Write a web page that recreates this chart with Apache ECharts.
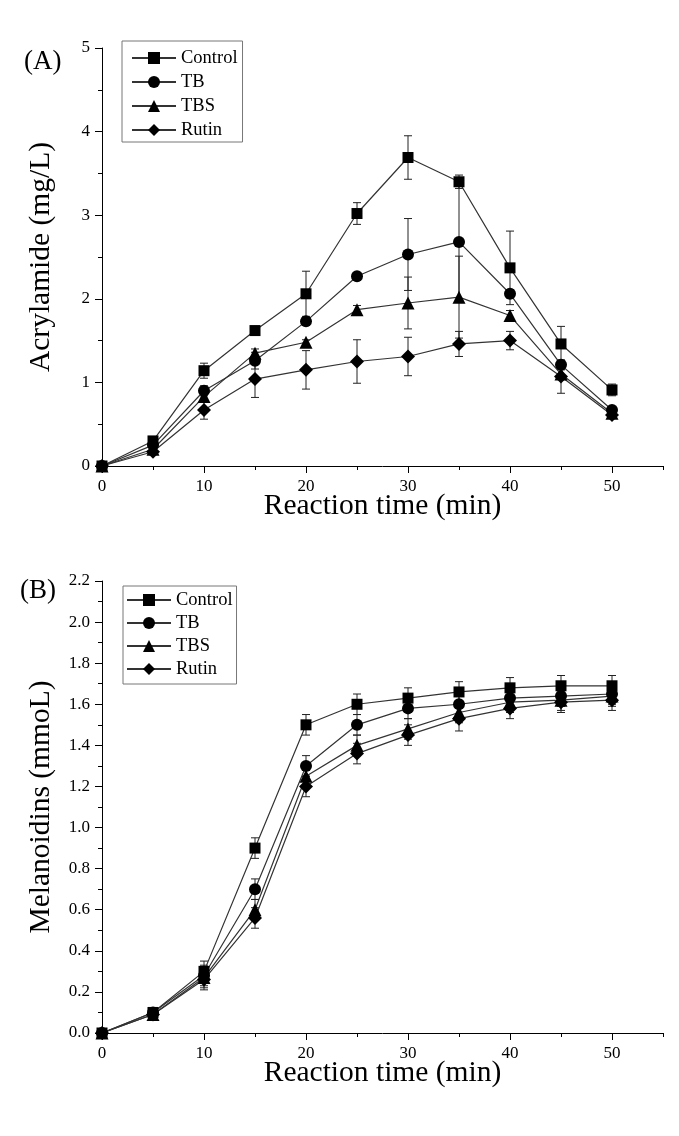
<!DOCTYPE html>
<html>
<head>
<meta charset="utf-8">
<script src="https://cdn.jsdelivr.net/npm/echarts@6/dist/echarts.min.js"></script>
<style>
html,body{margin:0;padding:0;background:#fff;}
#chart{width:679px;height:1136px;}
</style>
</head>
<body>
<div id="chart"></div>
<script>
// ---- data ----
var seriesNames = ['Control', 'TB', 'TBS', 'Rutin'];
var timeMin = [0, 5, 10, 15, 20, 25, 30, 35, 40, 45, 50];

// Panel A: acrylamide (mg/L)
var acrControl    = [0, 0.30, 1.14, 1.62, 2.06, 3.02, 3.69, 3.40, 2.37, 1.46, 0.91];
var acrControlErr = [0, 0.03, 0.09, 0.05, 0.27, 0.13, 0.26, 0.08, 0.44, 0.21, 0.07];
var acrTB         = [0, 0.25, 0.90, 1.26, 1.73, 2.27, 2.53, 2.68, 2.06, 1.21, 0.67];
var acrTBErr      = [0, 0.02, 0.06, 0.10, 0.05, 0.03, 0.43, 0.72, 0.05, 0.05, 0.03];
var acrTBS        = [0, 0.20, 0.83, 1.35, 1.48, 1.87, 1.95, 2.02, 1.80, 1.10, 0.63];
var acrTBSErr     = [0, 0.02, 0.05, 0.05, 0.03, 0.05, 0.31, 0.49, 0.06, 0.05, 0.03];
var acrRutin      = [0, 0.17, 0.67, 1.04, 1.15, 1.25, 1.31, 1.46, 1.50, 1.07, 0.61];
var acrRutinErr   = [0, 0.02, 0.11, 0.22, 0.23, 0.26, 0.23, 0.15, 0.11, 0.20, 0.03];

// Panel B: melanoidins (mmoL)
var melControl    = [0, 0.10, 0.30, 0.90, 1.50, 1.60, 1.63, 1.66, 1.68, 1.69, 1.69];
var melControlErr = [0, 0.01, 0.05, 0.05, 0.05, 0.05, 0.05, 0.05, 0.05, 0.05, 0.05];
var melTB         = [0, 0.10, 0.28, 0.70, 1.30, 1.50, 1.58, 1.60, 1.63, 1.64, 1.65];
var melTBErr      = [0, 0.01, 0.05, 0.05, 0.05, 0.05, 0.05, 0.05, 0.05, 0.05, 0.05];
var melTBS        = [0, 0.09, 0.27, 0.60, 1.25, 1.40, 1.48, 1.56, 1.61, 1.62, 1.64];
var melTBSErr     = [0, 0.01, 0.05, 0.05, 0.05, 0.05, 0.05, 0.05, 0.05, 0.05, 0.05];
var melRutin      = [0, 0.09, 0.26, 0.56, 1.20, 1.36, 1.45, 1.53, 1.58, 1.61, 1.62];
var melRutinErr   = [0, 0.01, 0.05, 0.05, 0.05, 0.05, 0.05, 0.06, 0.05, 0.05, 0.05];

// ticks / labels
var xMajorTicks = [0, 10, 20, 30, 40, 50];
var xMinorTicks = [5, 15, 25, 35, 45, 55];
var xTickLabels = [0, 10, 20, 30, 40, 50];

var symbols = ['rect', 'circle', 'triangle', 'diamond'];
var symbolSizes = [11, 12, 13, 14];
var FONT = 'Liberation Serif';

function pairs(xs, ys) { return xs.map(function (x, i) { return [x, ys[i]]; }); }
function triples(xs, ys, es) { return xs.map(function (x, i) { return [x, ys[i], es[i]]; }); }

function errRender(params, api) {
  var x = api.value(0), y = api.value(1), e = api.value(2);
  if (!e) return null;
  var t = api.coord([x, y + e]);
  var b = api.coord([x, y - e]);
  var hw = 4;
  var st = { stroke: '#222', lineWidth: 1 };
  return {
    type: 'group',
    children: [
      { type: 'line', shape: { x1: t[0], y1: t[1], x2: b[0], y2: b[1] }, style: st },
      { type: 'line', shape: { x1: t[0] - hw, y1: t[1], x2: t[0] + hw, y2: t[1] }, style: st },
      { type: 'line', shape: { x1: b[0] - hw, y1: b[1], x2: b[0] + hw, y2: b[1] }, style: st }
    ]
  };
}

var panelA = [acrControl, acrTB, acrTBS, acrRutin];
var panelAErr = [acrControlErr, acrTBErr, acrTBSErr, acrRutinErr];
var panelB = [melControl, melTB, melTBS, melRutin];
var panelBErr = [melControlErr, melTBErr, melTBSErr, melRutinErr];

var series = [];
function addPanel(vals, errs, xi, yi) {
  vals.forEach(function (v, k) {
    series.push({
      type: 'custom',
      xAxisIndex: xi, yAxisIndex: yi,
      renderItem: errRender,
      encode: { x: 0, y: 1 },
      data: triples(timeMin, v, errs[k]),
      z: 1, silent: true
    });
  });
  vals.forEach(function (v, k) {
    series.push({
      type: 'line',
      name: seriesNames[k],
      xAxisIndex: xi, yAxisIndex: yi,
      data: pairs(timeMin, v),
      symbol: symbols[k],
      symbolSize: symbolSizes[k],
      showAllSymbol: true,
      lineStyle: { color: '#333', width: 1.2 },
      itemStyle: { color: '#000' },
      z: 3, animation: false
    });
  });
}
addPanel(panelA, panelAErr, 0, 0);
addPanel(panelB, panelBErr, 2, 1);

function xAxes(gridIndex) {
  return [
    {
      type: 'value', gridIndex: gridIndex, min: 0, max: 55, interval: 5,
      position: 'bottom',
      name: 'Reaction time (min)', nameLocation: 'middle', nameGap: 25,
      nameMoveOverlap: false,
      nameTextStyle: { fontFamily: FONT, fontSize: 29.5, color: '#000' },
      axisLine: { show: true, lineStyle: { color: '#000', width: 1 } },
      axisTick: { show: true, inside: false, length: 7, customValues: xMajorTicks, lineStyle: { color: '#000' } },
      axisLabel: { customValues: xTickLabels, fontFamily: FONT, fontSize: 17, color: '#000', margin: 12 },
      splitLine: { show: false }
    },
    {
      type: 'value', gridIndex: gridIndex, min: 0, max: 55, interval: 5,
      position: 'bottom',
      axisLine: { show: false },
      axisTick: { show: true, inside: false, length: 4, customValues: xMinorTicks, lineStyle: { color: '#000' } },
      axisLabel: { show: false },
      splitLine: { show: false }
    }
  ];
}

function yAxis(gridIndex, max, interval, name, fmt) {
  return {
    type: 'value', gridIndex: gridIndex, min: 0, max: max, interval: interval,
    name: name, nameLocation: 'middle', nameGap: 46, nameRotate: 90,
    nameMoveOverlap: false,
    nameTextStyle: { fontFamily: FONT, fontSize: 29.5, color: '#000' },
    axisLine: { show: true, lineStyle: { color: '#000', width: 1 } },
    axisTick: { show: true, inside: false, length: 7, lineStyle: { color: '#000' } },
    minorTick: { show: true, splitNumber: 2, length: 4, lineStyle: { color: '#000' } },
    axisLabel: { fontFamily: FONT, fontSize: 17, color: '#000', margin: 12, formatter: fmt },
    splitLine: { show: false }
  };
}

var legendCommon = {
  orient: 'vertical',
  backgroundColor: '#fff',
  borderColor: '#777',
  borderWidth: 1,
  borderRadius: 0,
  itemWidth: 44,
  itemHeight: 15,
  itemGap: 4,
  textStyle: { fontFamily: FONT, fontSize: 18.5, color: '#000', lineHeight: 20 },
  data: seriesNames
};

var option = {
  animation: false,
  backgroundColor: '#fff',
  grid: [
    { left: 102, top: 48, width: 561, height: 418 },
    { left: 102, top: 581, width: 561, height: 452 }
  ],
  xAxis: xAxes(0).concat(xAxes(1)),
  yAxis: [
    yAxis(0, 5, 1, 'Acrylamide (mg/L)', function (v) { return String(v); }),
    yAxis(1, 2.2, 0.2, 'Melanoidins (mmoL)', function (v) { return v.toFixed(1); })
  ],
  legend: [
    Object.assign({}, legendCommon, { left: 122, top: 41, padding: [7, 5, 2, 9] }),
    Object.assign({}, legendCommon, { left: 123, top: 586, padding: [4, 4, 5, 3], itemGap: 3 })
  ],
  graphic: [
    { type: 'text', left: 24, top: 48, style: { text: '(A)', fontFamily: FONT, fontSize: 27, fill: '#000' } },
    { type: 'text', left: 20, top: 577, style: { text: '(B)', fontFamily: FONT, fontSize: 27, fill: '#000' } }
  ],
  series: series
};

var chart = echarts.init(document.getElementById('chart'), null, { renderer: 'canvas' });
chart.setOption(option);
</script>
</body>
</html>
